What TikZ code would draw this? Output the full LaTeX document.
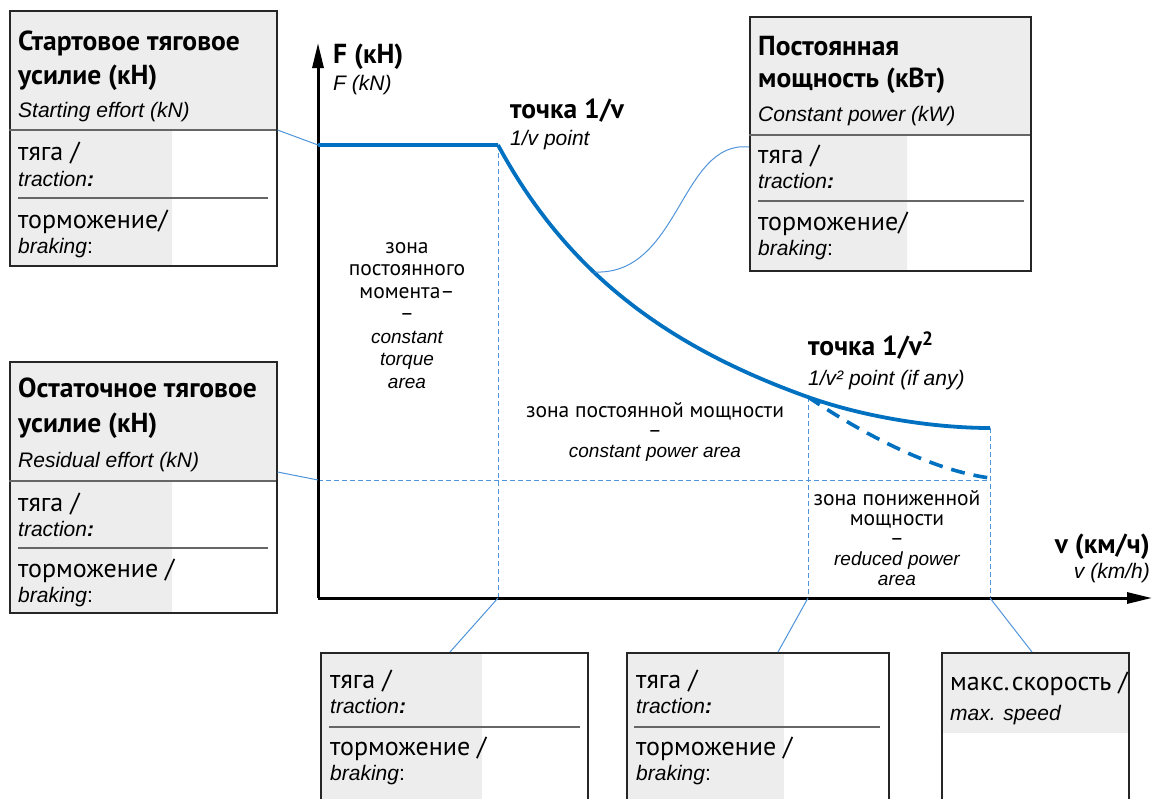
\documentclass[tikz,border=0pt]{standalone}
\usepackage{fontspec}
\setmainfont{PT Sans}
\newfontfamily\engfont{Liberation Sans}
\usetikzlibrary{arrows.meta}
\definecolor{curveblue}{RGB}{0,112,192}
\definecolor{linkblue}{RGB}{80,148,218}
\definecolor{panelgray}{RGB}{237,237,237}
\newcommand\zoneen{\fontsize{19}{22.5}\selectfont\engfont\itshape}
\tikzset{
    panel/.style={draw=black!85, line width=1.5pt},
    divider/.style={draw=black!60, line width=1.2pt},
    link/.style={linkblue, line width=1pt},
    guide/.style={linkblue, dash pattern=on 5pt off 3pt, line width=0.9pt},
    axis/.style={line width=3pt, -{Triangle[length=25pt,width=11pt]}},
    title/.style={anchor=base west, inner sep=0pt, font=\fontsize{27.5}{30}\selectfont\bfseries},
    ru/.style={anchor=base west, inner sep=0pt, font=\fontsize{26}{30}\selectfont},
    en/.style={anchor=base west, inner sep=0pt, font=\fontsize{21}{24}\selectfont\engfont\itshape},
    zone/.style={anchor=north, inner sep=0pt, align=center, font=\fontsize{21.5}{22.5}\selectfont},
}
\begin{document}
\begin{tikzpicture}[x=1pt, y=-1pt]
    \useasboundingbox (0,0) rectangle (1154,798);
    % panels
    \fill[panelgray] (9,10) rectangle (276,130) (9,130) rectangle (172,265);
    \node[panel, inner sep=0pt, minimum width=267pt, minimum height=255pt, anchor=north west] (startbox) at (9,10) {};
    \draw[divider] (9,130) -- (276,130);
    \draw[divider] (18,198) -- (268,198);
    \node[title] (startru1) at (18,50) {Стартовое тяговое};
    \node[title] (startru2) at (18,84) {усилие (кН)};
    \node[en] (starten) at (18,117) {Starting effort (kN)};
    \node[ru] (starttr) at (18,160) {тяга /};
    \node[en] (starttren) at (18,186) {traction\textbf{:}};
    \node[ru] (startbr) at (18,228) {торможение/};
    \node[en] (startbren) at (18,253) {braking\upshape:};

    \fill[panelgray] (749,16) rectangle (1030,135) (749,135) rectangle (907,270);
    \node[panel, inner sep=0pt, minimum width=281pt, minimum height=254pt, anchor=north west] (powerbox) at (749,16) {};
    \draw[divider] (749,135) -- (1030,135);
    \draw[divider] (758,201) -- (1024,201);
    \node[title] (powerru1) at (758,55) {Постоянная};
    \node[title] (powerru2) at (758,87) {мощность (кВт)};
    \node[en] (poweren) at (758,121) {Constant power (kW)};
    \node[ru] (powertr) at (758,163) {тяга /};
    \node[en] (powertren) at (758,188) {traction\textbf{:}};
    \node[ru] (powerbr) at (758,230) {торможение/};
    \node[en] (powerbren) at (758,255) {braking\upshape:};

    \fill[panelgray] (9,361) rectangle (276,481) (9,481) rectangle (172,612);
    \node[panel, inner sep=0pt, minimum width=267pt, minimum height=251pt, anchor=north west] (restbox) at (9,361) {};
    \draw[divider] (9,481) -- (276,481);
    \draw[divider] (18,548) -- (268,548);
    \node[title] (restru1) at (18,397) {Остаточное тяговое};
    \node[title] (restru2) at (18,432) {усилие (кН)};
    \node[en] (resten) at (18,467) {Residual effort (kN)};
    \node[ru] (resttr) at (18,511) {тяга /};
    \node[en] (resttren) at (18,536) {traction\textbf{:}};
    \node[ru] (restbr) at (18,577) {торможение /};
    \node[en] (restbren) at (18,602) {braking\upshape:};

    \fill[panelgray] (320,652) rectangle (482,810);
    \node[panel, inner sep=0pt, minimum width=267pt, minimum height=160pt, anchor=north west] (bendbox) at (320,652) {};
    \draw[divider] (329,727) -- (580,727);
    \node[ru] (bendtr) at (330,688) {тяга /};
    \node[en] (bendtren) at (330,713) {traction\textbf{:}};
    \node[ru] (bendbr) at (330,755) {торможение /};
    \node[en] (bendbren) at (330,780) {braking\upshape:};

    \fill[panelgray] (626,652) rectangle (784,810);
    \node[panel, inner sep=0pt, minimum width=262pt, minimum height=160pt, anchor=north west] (kneebox) at (626,652) {};
    \draw[divider] (634,727) -- (880,727);
    \node[ru] (kneetr) at (636,688) {тяга /};
    \node[en] (kneetren) at (636,713) {traction\textbf{:}};
    \node[ru] (kneebr) at (636,755) {торможение /};
    \node[en] (kneebren) at (636,780) {braking\upshape:};

    \fill[panelgray] (941,652) rectangle (1128,733);
    \node[panel, inner sep=0pt, minimum width=187pt, minimum height=160pt, anchor=north west] (speedbox) at (941,652) {};
    \node[ru] (speedru) at (950,690) {макс.\hspace{0.1em}скорость /};
    \node[en] (speeden) at (950,720) {max. speed};

    % curve points
    \coordinate (origin) at (318,598);
    \coordinate (fstart) at (318,145);
    \coordinate (bend) at (498,145);
    \coordinate (onhyp) at (594,272);
    \coordinate (knee) at (808,397);
    \coordinate (vmax) at (990,428);
    \coordinate (vlow) at (990,478);
    \coordinate (rest) at (318,480);

    % guides
    \draw[guide] (bend) -- (bend |- origin);
    \draw[guide] (knee) -- (knee |- origin);
    \draw[guide] (vmax) -- (vmax |- origin);
    \draw[guide] (rest) -- (990,480);

    % axes
    \draw[axis] (origin) -- (318,43);
    \draw[axis] (origin) -- (1152,598);

    % traction curve
    \draw[curveblue, line width=3.8pt, line join=round] (fstart) -- (bend)
        plot[domain=498:808, samples=60] (\x, {595 - 1095.55/((\x-254.5)/100)})
        .. controls (870,419) and (940,428) .. (vmax);
    \draw[curveblue, line width=3.6pt, dash pattern=on 14pt off 9pt]
        (knee) .. controls (860,432) and (930,470) .. (vlow);

    % connectors
    \draw[link] (startbox.east |- 0,130) -- (fstart);
    \draw[link] (restbox.east |- 0,472) -- (rest);
    \draw[link] (powerbox.west |- 0,147) .. controls (680,140) and (680,276) .. (onhyp);
    \draw[link] (450,652) -- (bend |- origin);
    \draw[link] (778,652) -- (knee |- origin);
    \draw[link] (1032,652) -- (vmax |- origin);

    % labels
    \node[title] (flabel) at (333,63) {F (кН)};
    \node[en] (flabelen) at (333,90) {F (kN)};
    \node[title] (bendlabel) at (510,118) {точка 1/v};
    \node[en] (bendlabelen) at (510,145) {1/v point};
    \node[title] (kneelabel) at (808,355) {точка 1/v\textsuperscript{2}};
    \node[en] (kneelabelen) at (808,385) {1/v² point (if any)};
    \node[title, anchor=base east] (vlabel) at (1150,553) {v (км/ч)};
    \node[en, anchor=base east] (vlabelen) at (1150,578) {v (km/h)};

    \node[zone] (torquezone) at (407,242) {зона\\постоянного\\момента–\\–\\{\zoneen constant}\\{\zoneen torque}\\{\zoneen area}};
    \node[zone, font=\fontsize{21.5}{20}\selectfont] (powerzone) at (655,402) {зона постоянной мощности\\–\\{\zoneen constant power area}};
    \node[zone, font=\fontsize{21.5}{20}\selectfont] (reducedzone) at (897,490) {зона пониженной\\мощности\\–\\{\zoneen reduced power}\\{\zoneen area}};
\end{tikzpicture}
\end{document}
